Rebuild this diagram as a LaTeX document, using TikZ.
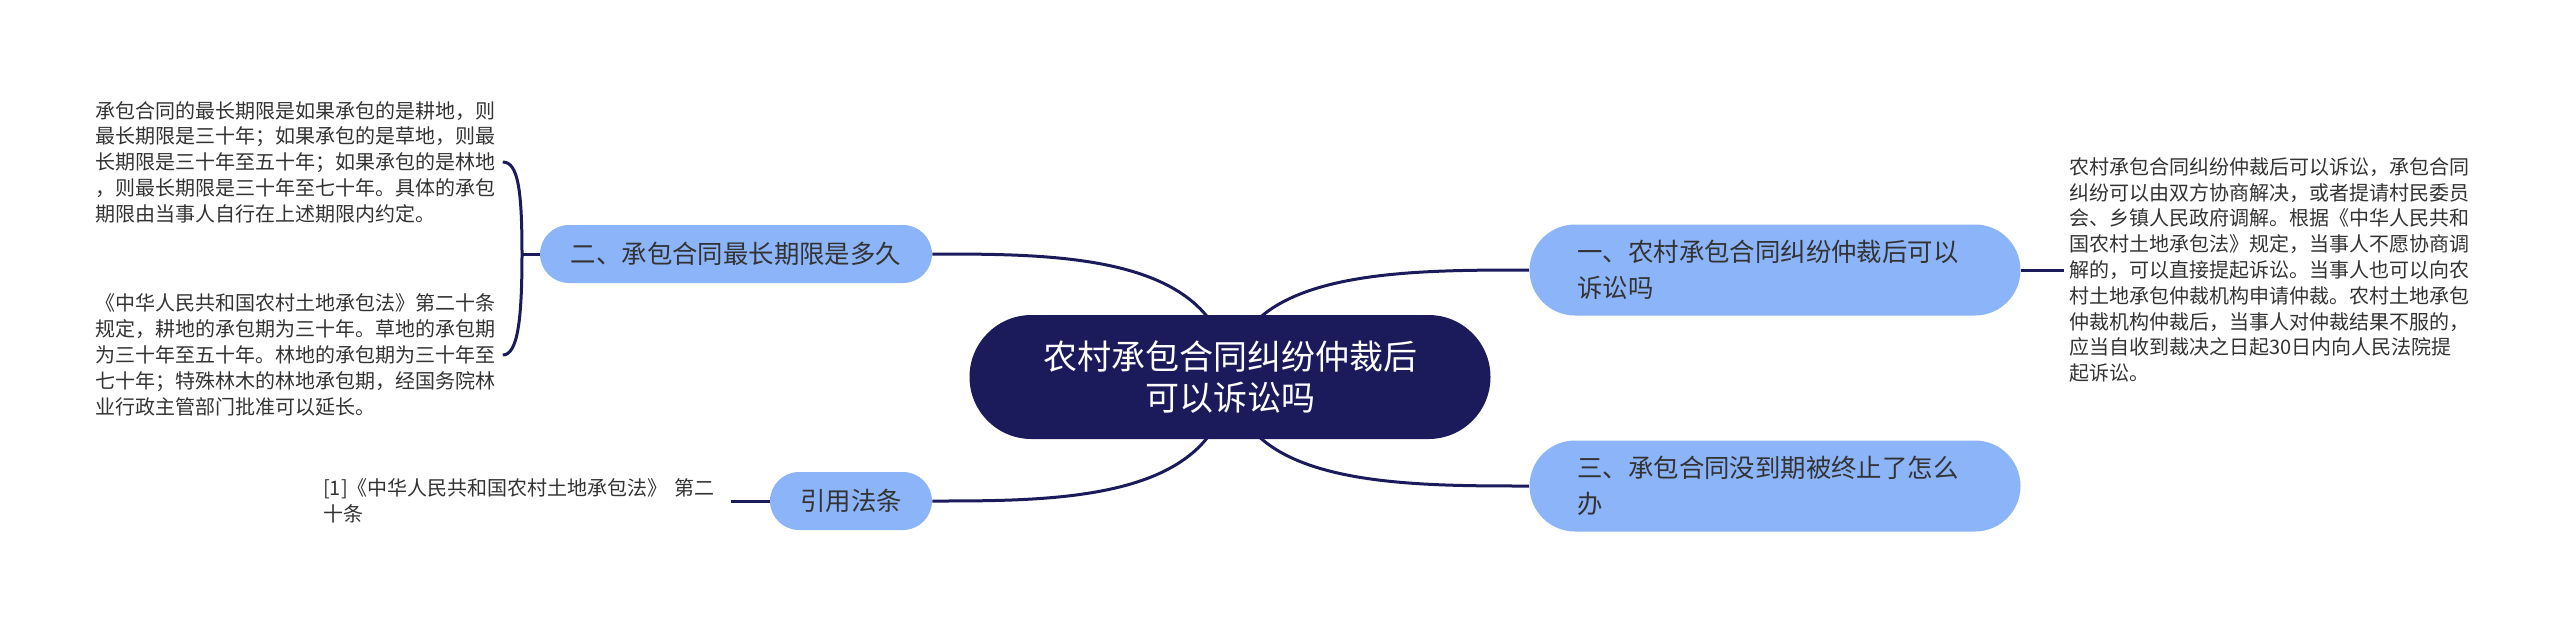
\documentclass[tikz,border=0pt]{standalone}
\usepackage{fontspec}
\setmainfont{Noto Sans CJK SC}
\usepackage{tikz}
\usetikzlibrary{positioning,backgrounds}
\definecolor{navy}{HTML}{1B1A5B}
\definecolor{branchblue}{HTML}{8CB4F9}
\definecolor{textgray}{HTML}{333333}

\begin{document}
\begin{tikzpicture}[x=0.5pt, y=0.5pt,
  root/.style={fill=navy, text=white, rounded corners=31pt, minimum width=260.5pt, minimum height=62pt, align=center, font=\fontsize{17pt}{20.5pt}\selectfont},
  branch/.style={fill=branchblue, text=textgray, rounded corners=14.5pt, minimum height=29pt, align=center, font=\fontsize{12.7pt}{18pt}\selectfont},
  widebranch/.style={branch, rounded corners=22.75pt, minimum width=245.5pt, minimum height=45.5pt, text width=197.5pt, align=left},
  leaf/.style={text=textgray, text width=201pt, align=left, inner xsep=2.5pt, font=\fontsize{10pt}{12.9pt}\selectfont},
  link/.style={draw=navy, line width=1.5pt}]
  \useasboundingbox (0,0) rectangle (2560,-622);
  \node[root] (root) at (1230,-377) {农村承包合同纠纷仲裁后\\可以诉讼吗};
  \node[widebranch] (arbitrate) at (1775,-270) {一、农村承包合同纠纷仲裁后可以\\诉讼吗};
  \node[widebranch] (ended) at (1775,-486) {三、承包合同没到期被终止了怎么\\办};
  \node[branch, minimum width=196pt] (term) at (736,-254) {二、承包合同最长期限是多久};
  \node[branch, minimum width=81pt] (cite) at (851,-501) {引用法条};
  \node[leaf, right=21.5pt of arbitrate] (arbnote) {农村承包合同纠纷仲裁后可以诉讼，承包合同\\纠纷可以由双方协商解决，或者提请村民委员\\会、乡镇人民政府调解。根据《中华人民共和\\国农村土地承包法》规定，当事人不愿协商调\\解的，可以直接提起诉讼。当事人也可以向农\\村土地承包仲裁机构申请仲裁。农村土地承包\\仲裁机构仲裁后，当事人对仲裁结果不服的，\\应当自收到裁决之日起30日内向人民法院提\\起诉讼。};
  \node[leaf, left=19.5pt of cite] (citenote) {[1]《中华人民共和国农村土地承包法》~第二\\十条};
  \node[leaf, anchor=west] (termnote) at (90,-162) {承包合同的最长期限是如果承包的是耕地，则\\最长期限是三十年；如果承包的是草地，则最\\长期限是三十年至五十年；如果承包的是林地\\，则最长期限是三十年至七十年。具体的承包\\期限由当事人自行在上述期限内约定。};
  \node[leaf, anchor=west] (lawnote) at (90,-355) {《中华人民共和国农村土地承包法》第二十条\\规定，耕地的承包期为三十年。草地的承包期\\为三十年至五十年。林地的承包期为三十年至\\七十年；特殊林木的林地承包期，经国务院林\\业行政主管部门批准可以延长。};
  \coordinate (brace) at (522,-254);
  \begin{scope}[on background layer]
    \draw[link] (root.center) .. controls (1220,-254) and (1060,-254) .. (term.east);
    \draw[link] (root.center) .. controls (1240,-270) and (1400,-270) .. (arbitrate.west);
    \draw[link] (root.center) .. controls (1220,-501) and (1060,-501) .. (cite.east);
    \draw[link] (root.center) .. controls (1240,-486) and (1400,-486) .. (ended.west);
  \end{scope}
  \draw[link] (arbitrate.east) -- (arbnote.west);
  \draw[link] (cite.west) -- (citenote.east);
  \draw[link] (term.west) -- (brace);
  \draw[link] (termnote.east) .. controls (518,-162) and (522,-190) .. (brace) .. controls (522,-318) and (518,-355) .. (lawnote.east);
\end{tikzpicture}
\end{document}
